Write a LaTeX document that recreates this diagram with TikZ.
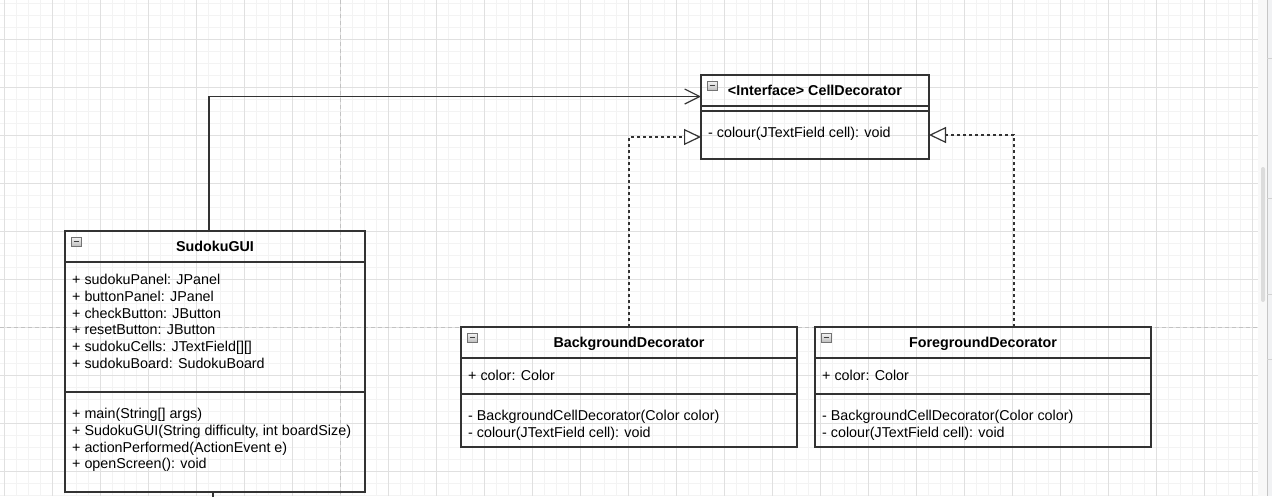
\documentclass[tikz,border=0pt]{standalone}
\usepackage{fontspec}
\setmainfont{Liberation Sans}
\usetikzlibrary{positioning, arrows.meta}
\definecolor{gridminor}{HTML}{F3F3F3}
\definecolor{gridmajor}{HTML}{E0E0E0}
\definecolor{pagebreak}{HTML}{C2C2C2}
\definecolor{umlline}{HTML}{333333}
\definecolor{scrollbg}{HTML}{F8F8F8}
\definecolor{scrollthumb}{HTML}{DCDCDC}
\definecolor{panelbg}{HTML}{F1F2F4}
\tikzset{
classhead/.style={
	draw=umlline,
	line width=1.2pt,
	anchor=north west,
	inner sep=0pt,
	outer sep=0pt,
	minimum height=31pt,
	text height=10pt,
	text depth=0pt,
	font=\fontsize{14.3}{16.8}\selectfont\bfseries,
},
compart/.style={
	draw=umlline,
	line width=1.2pt,
	inner sep=0pt,
	outer sep=0pt,
},
members/.style={
	anchor=north west,
	inner sep=0pt,
	align=left,
	font=\fontsize{14.3}{16.8}\selectfont,
},
minusbox/.style={
	draw=gray!90!black,
	line width=0.8pt,
	anchor=north west,
	inner sep=0pt,
	outer sep=0pt,
	minimum width=10pt,
	minimum height=9pt,
	top color=gray!8,
	bottom color=gray!50,
	path picture={\draw[black!75, line width=1pt]
		([xshift=2.5pt]path picture bounding box.west) --
		([xshift=-2.5pt]path picture bounding box.east);},
},
association/.style={
	draw=umlline,
	line width=1.2pt,
	-{Straight Barb[length=15pt, width=15pt]},
},
realization/.style={
	draw=umlline,
	line width=1.2pt,
	dash pattern=on 3pt off 3pt,
	-{Triangle[length=17pt, width=16pt, fill=white]},
},
}

\begin{document}
\begin{tikzpicture}[x=1pt, y=-1pt]
		\useasboundingbox (0,0) rectangle (1272,496);
		\fill[white] (0,0) rectangle (1272,496);
		
		% Grid
		\foreach \gx in {4,16,...,1256} \draw[gridminor, line width=1pt] (\gx,0) -- (\gx,496);
		\foreach \gy in {3,15,...,495} \draw[gridminor, line width=1pt] (0,\gy) -- (1258,\gy);
		\foreach \gx in {4,52,...,1256} \draw[gridmajor, line width=1pt] (\gx,0) -- (\gx,496);
		\foreach \gy in {39,87,...,495} \draw[gridmajor, line width=1pt] (0,\gy) -- (1258,\gy);
		% Page breaks
		\draw[pagebreak, line width=1pt, dash pattern=on 4pt off 3pt] (340,0) -- (340,496);
		\draw[pagebreak, line width=1pt, dash pattern=on 4pt off 3pt] (0,327) -- (1258,327);
		% Scrollbar
		\fill[scrollbg] (1258,0) rectangle (1267,496);
		\fill[scrollthumb, rounded corners=2pt] (1261,167) rectangle (1265,302);
		\fill[panelbg] (1267,0) rectangle (1272,496);
		\draw[gray!45, line width=1pt] (1267,0) -- (1267,496);
		\foreach \py in {58,198,294,359} \draw[gray!35, line width=1pt] (1267,\py) -- (1272,\py);
		
		% SudokuGUI
		\node[classhead, minimum width=300pt] (SudokuGUI) at (65,231) {SudokuGUI};
		\node[compart, below=0pt of SudokuGUI, minimum width=300pt, minimum height=130pt] (SudokuGUI-attr) {};
		\node[compart, below=0pt of SudokuGUI-attr, minimum width=300pt, minimum height=100pt] (SudokuGUI-ops) {};
		\node[minusbox, below right=6pt and 6pt of SudokuGUI.north west] (SudokuGUI-min) {};
		\node[members, below right=12pt and 7pt of SudokuGUI-attr.north west] (SudokuGUI-attrtext)
			{+ sudokuPanel: JPanel\\+ buttonPanel: JPanel\\+ checkButton: JButton\\+ resetButton: JButton\\+ sudokuCells: JTextField[][]\\+ sudokuBoard: SudokuBoard};
		\node[members, below right=16pt and 7pt of SudokuGUI-ops.north west] (SudokuGUI-opstext)
			{+ main(String[] args)\\+ SudokuGUI(String difficulty, int boardSize)\\+ actionPerformed(ActionEvent e)\\+ openScreen(): void};
		
		% CellDecorator
		\node[classhead, minimum width=228pt] (CellDecorator) at (701,75) {<Interface> CellDecorator};
		\node[compart, below=0pt of CellDecorator, minimum width=228pt, minimum height=5pt] (CellDecorator-attr) {};
		\node[compart, below=0pt of CellDecorator-attr, minimum width=228pt, minimum height=48pt] (CellDecorator-ops) {};
		\node[minusbox, below right=6pt and 6pt of CellDecorator.north west] (CellDecorator-min) {};
		\node[members, below right=16pt and 7pt of CellDecorator-ops.north west] (CellDecorator-opstext)
			{- colour(JTextField cell): void};
		
		% BackgroundDecorator
		\node[classhead, minimum width=336pt] (BackgroundDecorator) at (461,327) {BackgroundDecorator};
		\node[compart, below=0pt of BackgroundDecorator, minimum width=336pt, minimum height=36pt] (BackgroundDecorator-attr) {};
		\node[compart, below=0pt of BackgroundDecorator-attr, minimum width=336pt, minimum height=53pt] (BackgroundDecorator-ops) {};
		\node[minusbox, below right=6pt and 6pt of BackgroundDecorator.north west] (BackgroundDecorator-min) {};
		\node[members, below right=12pt and 7pt of BackgroundDecorator-attr.north west] (BackgroundDecorator-attrtext)
			{+ color: Color};
		\node[members, below right=16pt and 7pt of BackgroundDecorator-ops.north west] (BackgroundDecorator-opstext)
			{- BackgroundCellDecorator(Color color)\\- colour(JTextField cell): void};
		
		% ForegroundDecorator
		\node[classhead, minimum width=336pt] (ForegroundDecorator) at (815,327) {ForegroundDecorator};
		\node[compart, below=0pt of ForegroundDecorator, minimum width=336pt, minimum height=36pt] (ForegroundDecorator-attr) {};
		\node[compart, below=0pt of ForegroundDecorator-attr, minimum width=336pt, minimum height=53pt] (ForegroundDecorator-ops) {};
		\node[minusbox, below right=6pt and 6pt of ForegroundDecorator.north west] (ForegroundDecorator-min) {};
		\node[members, below right=12pt and 7pt of ForegroundDecorator-attr.north west] (ForegroundDecorator-attrtext)
			{+ color: Color};
		\node[members, below right=16pt and 7pt of ForegroundDecorator-ops.north west] (ForegroundDecorator-opstext)
			{- BackgroundCellDecorator(Color color)\\- colour(JTextField cell): void};
		
		% Connections
		
		% SudokuGUI -> CellDecorator
		\draw[association] ([xshift=-6pt]SudokuGUI.north) |- ([yshift=-6pt]CellDecorator.west);
		
		% SudokuGUI -> (off page)
		\coordinate (SudokuGUI-out) at (213,497);
		\draw[umlline, line width=1.2pt] ([xshift=-2pt]SudokuGUI-ops.south) -- (SudokuGUI-out);
		
		% BackgroundDecorator -> CellDecorator
		\draw[realization] (BackgroundDecorator.north) |- ([yshift=-2pt]CellDecorator-ops.west);
		
		% ForegroundDecorator -> CellDecorator
		\draw[realization] ([xshift=31pt]ForegroundDecorator.north) |- (CellDecorator-ops.east);
	\end{tikzpicture}
\end{document}
